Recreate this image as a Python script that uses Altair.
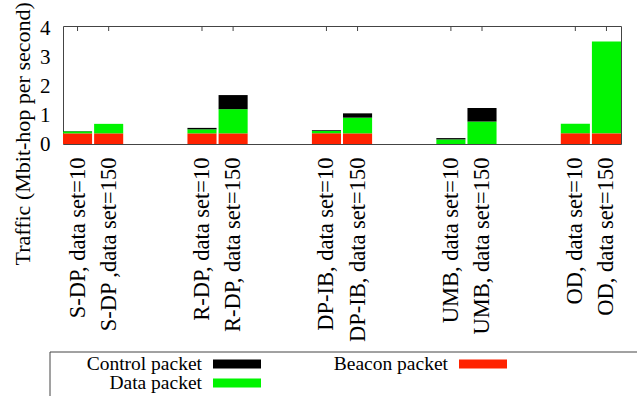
import altair as alt
import pandas as pd

# ---- values ----
categories = [
    "S-DP, data set=10", "S-DP ,data set=150",
    "R-DP, data set=10", "R-DP, data set=150",
    "DP-IB, data set=10", "DP-IB, data set=150",
    "UMB, data set=10", "UMB, data set=150",
    "OD, data set=10", "OD, data set=150",
]
beacon = [0.37, 0.37, 0.37, 0.37, 0.37, 0.37, 0.0, 0.0, 0.37, 0.37]
data_pkt = [0.07, 0.33, 0.14, 0.84, 0.08, 0.545, 0.16, 0.78, 0.33, 3.19]
control = [0.01, 0.0, 0.05, 0.49, 0.03, 0.15, 0.045, 0.47, 0.0, 0.0]

packet_types = ["Beacon packet", "Data packet", "Control packet"]
packet_colors = ["#ff2200", "#00f400", "#000000"]

legend_labels = ["Control packet", "Data packet", "Beacon packet"]
legend_cols = [0, 0, 1]
legend_rows = [0, 1, 0]

y_ticks = [0, 1, 2, 3, 4]

FONT = "Liberation Serif"

# band slots: two bars per group, two empty slots between groups
slots = []
for i in range(0, len(categories), 2):
    slots += categories[i:i + 2]
    if i + 2 < len(categories):
        slots += [f"gap{i}a", f"gap{i}b"]

rows = []
for c, b, d, k in zip(categories, beacon, data_pkt, control):
    for order, (t, v) in enumerate(zip(packet_types, [b, d, k])):
        rows.append({"slot": c, "type": t, "value": v, "order": order})
df = pd.DataFrame(rows)
cat_df = pd.DataFrame({"slot": categories})
leg_df = pd.DataFrame({"type": legend_labels, "col": legend_cols, "row": legend_rows})

x_scale = alt.Scale(domain=slots, paddingInner=0.065, paddingOuter=0)
x_axis = alt.Axis(values=categories, labelAngle=-90, ticks=False, domain=False,
                  title=None, labelPadding=13, labelLimit=400, labelFontSize=22.5)
color_enc = alt.Color("type:N", scale=alt.Scale(domain=packet_types, range=packet_colors), legend=None)

bars = alt.Chart(df).mark_bar().encode(
    x=alt.X("slot:N", scale=x_scale, sort=slots, axis=x_axis),
    y=alt.Y("value:Q", stack="zero", scale=alt.Scale(domain=[0, 4.1], nice=False),
            axis=alt.Axis(values=y_ticks, ticks=False, domain=False, grid=False,
                          labelPadding=13, labelFontSize=21,
                          title="Traffic (Mbit-hop per second)", titleFontSize=22,
                          titleX=-34, titleY=239, titleAlign="left", titleAngle=270,
                          titleBaseline="alphabetic")),
    color=color_enc,
    order=alt.Order("order:Q"),
)

top_ticks = alt.Chart(cat_df).mark_rule(color="#444", strokeWidth=1).encode(
    x=alt.X("slot:N", scale=x_scale, sort=slots, axis=x_axis),
    y=alt.value(0),
    y2=alt.value(5),
)

main = alt.layer(bars, top_ticks)

lx = alt.X("col:Q", scale=alt.Scale(domain=[0, 1], range=[139, 385]), axis=None)
ly = alt.Y("row:Q", scale=alt.Scale(domain=[0, 1], range=[338, 357]), axis=None)

leg_text = alt.Chart(leg_df).mark_text(
    align="right", baseline="middle", font=FONT, fontSize=19.5, color="black"
).encode(x=lx, y=ly, text="type:N")

leg_swatch = alt.Chart(leg_df).mark_rect(
    xOffset=11, x2Offset=59, yOffset=-4.5, y2Offset=4.5
).encode(x=lx, x2="col:Q", y=ly, y2="row:Q", color=color_enc)

leg_frame = alt.Chart(pd.DataFrame({"k": [0]})).mark_rect(
    fillOpacity=0, stroke="#444", strokeWidth=1
).encode(x=alt.value(-13), x2=alt.value(590), y=alt.value(326), y2=alt.value(380))

chart = alt.layer(main, leg_frame, leg_text, leg_swatch).resolve_scale(
    x="independent", y="independent"
).properties(
    width=558, height=118,
    autosize=alt.AutoSizeParams(type="none"),
    padding={"left": 63, "top": 26, "right": 16, "bottom": 252},
).configure_view(
    stroke="#444", strokeWidth=1
).configure_axis(
    labelFont=FONT, labelFontSize=20, labelColor="black",
    titleFont=FONT, titleFontSize=20, titleColor="black", titleFontWeight="normal",
)

chart.save("out.html", embed_options={"renderer": "svg", "actions": False})
